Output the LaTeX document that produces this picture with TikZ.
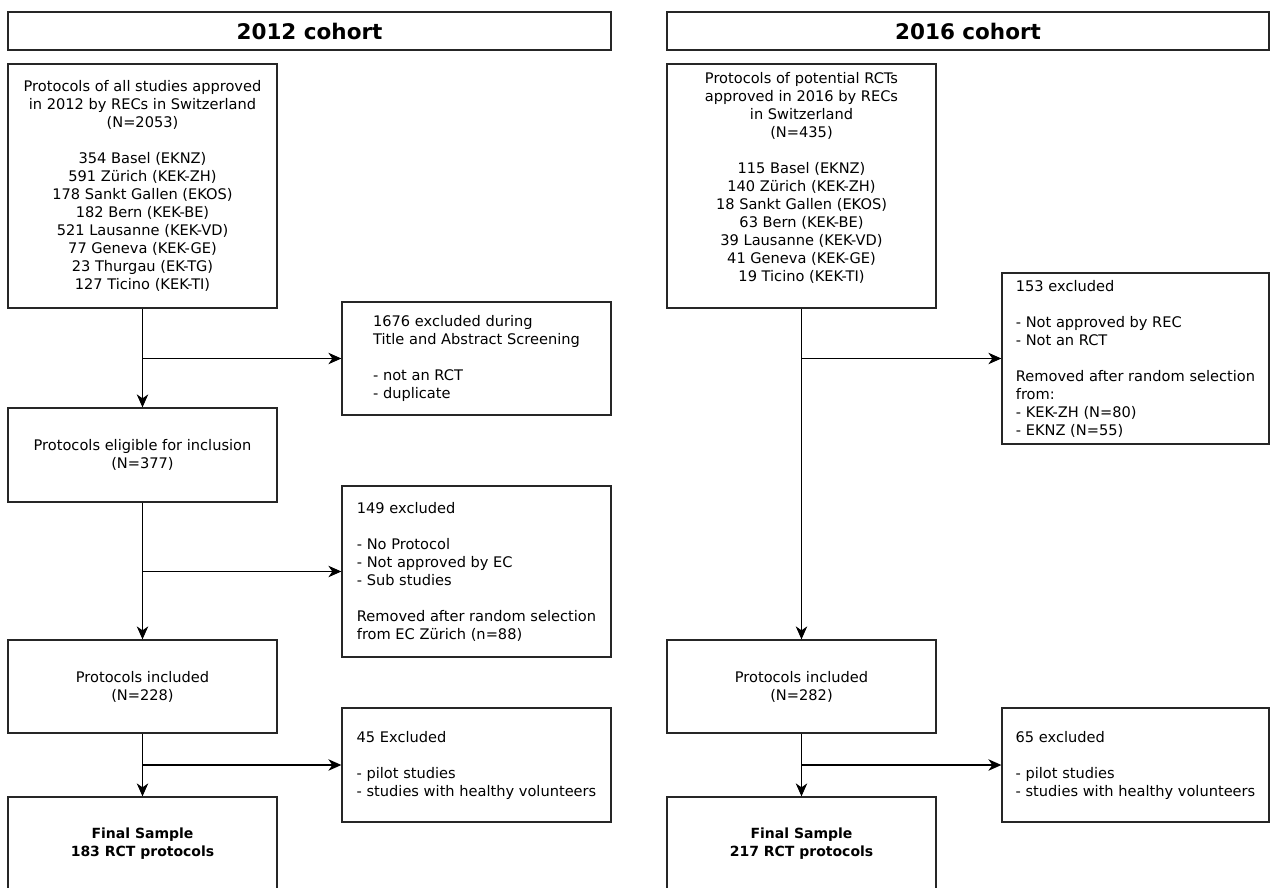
\documentclass[tikz,border=0pt]{standalone}
\usepackage{fontspec}
\setmainfont{DejaVu Sans}
\usetikzlibrary{arrows.meta}
\tikzset{
  box/.style={draw=black!85, line width=1.3pt, rectangle, inner sep=0pt,
    minimum width=269pt, font=\fontsize{14.6}{18}\selectfont, text=black},
  head/.style={box, minimum width=603pt, minimum height=38pt,
    font=\fontsize{21.5}{26}\selectfont\bfseries},
  conn/.style={line width=1.1pt, draw=black,
    -{Stealth[length=13pt,width=11.5pt,inset=4pt]}},
}
\begin{document}
\begin{tikzpicture}[x=1pt,y=-1pt]
\fill[white] (0,0) rectangle (1270,887);
\clip (0,0) rectangle (1270,887);
% headers
\node[head] (H1) at (309.5,31) {2012 cohort};
\node[head, minimum width=602pt] (H2) at (968,31) {2016 cohort};
% left column
\node[box, minimum height=244pt, align=center] (A1) at (142.5,186)
 {Protocols of all studies approved\\in 2012 by RECs in Switzerland\\(N=2053)\\[18pt]
  354 Basel (EKNZ)\\591 Zürich (KEK-ZH)\\178 Sankt Gallen (EKOS)\\182 Bern (KEK-BE)\\
  521 Lausanne (KEK-VD)\\77 Geneva (KEK-GE)\\23 Thurgau (EK-TG)\\127 Ticino (KEK-TI)};
\node[box, minimum height=113pt, align=left] (B1) at (476.5,358.5)
 {1676 excluded during\\Title and Abstract Screening\\[18pt]- not an RCT\\- duplicate};
\node[box, minimum height=94pt, align=center] (A2) at (142.5,455)
 {Protocols eligible for inclusion\\(N=377)};
\node[box, minimum height=171pt, align=left] (B2) at (476.5,571.5)
 {149 excluded\\[18pt]- No Protocol\\- Not approved by EC\\- Sub studies\\[18pt]
  Removed after random selection\\from EC Zürich (n=88)};
\node[box, minimum height=93pt, align=center] (A3) at (142.5,686.5)
 {Protocols included\\(N=228)};
\node[box, minimum height=114pt, align=left] (B3) at (476.5,765)
 {45 Excluded\\[18pt]- pilot studies\\- studies with healthy volunteers};
\node[box, minimum height=94pt, align=center] (A4) at (142.5,844)
 {\fontsize{14}{18}\selectfont\bfseries Final Sample\\\fontsize{14}{18}\selectfont\bfseries 183 RCT protocols};
% right column
\node[box, minimum height=244pt, align=center] (C1) at (801.5,186)
 {Protocols of potential RCTs\\approved in 2016 by RECs\\in Switzerland\\(N=435)\\[18pt]
  115 Basel (EKNZ)\\140 Zürich (KEK-ZH)\\18 Sankt Gallen (EKOS)\\63 Bern (KEK-BE)\\
  39 Lausanne (KEK-VD)\\41 Geneva (KEK-GE)\\19 Ticino (KEK-TI)\\ \mbox{}};
\node[box, minimum width=267pt, minimum height=171pt, align=left] (D1) at (1135.5,358.5)
 {153 excluded\\[18pt]- Not approved by REC\\- Not an RCT\\[18pt]
  Removed after random selection\\from:\\- KEK-ZH (N=80)\\- EKNZ (N=55)};
\node[box, minimum height=93pt, align=center] (C3) at (801.5,686.5)
 {Protocols included\\(N=282)};
\node[box, minimum width=267pt, minimum height=114pt, align=left] (D3) at (1135.5,765)
 {65 excluded\\[18pt]- pilot studies\\- studies with healthy volunteers};
\node[box, minimum height=94pt, align=center] (C4) at (801.5,844)
 {\fontsize{14}{18}\selectfont\bfseries Final Sample\\\fontsize{14}{18}\selectfont\bfseries 217 RCT protocols};
% connectors left
\draw[conn] (A1.south) -- (A2.north);
\draw[conn] (A1.south |- B1.west) -- (B1.west);
\draw[conn] (A2.south) -- (A3.north);
\draw[conn] (A2.south |- B2.west) -- (B2.west);
\draw[conn] (A3.south) -- (A4.north);
\draw[conn] (A3.south |- B3.west) -- (B3.west);
% connectors right
\draw[conn] (C1.south) -- (C3.north);
\draw[conn] (C1.south |- D1.west) -- (D1.west);
\draw[conn] (C3.south) -- (C4.north);
\draw[conn] (C3.south |- D3.west) -- (D3.west);
\end{tikzpicture}
\end{document}
